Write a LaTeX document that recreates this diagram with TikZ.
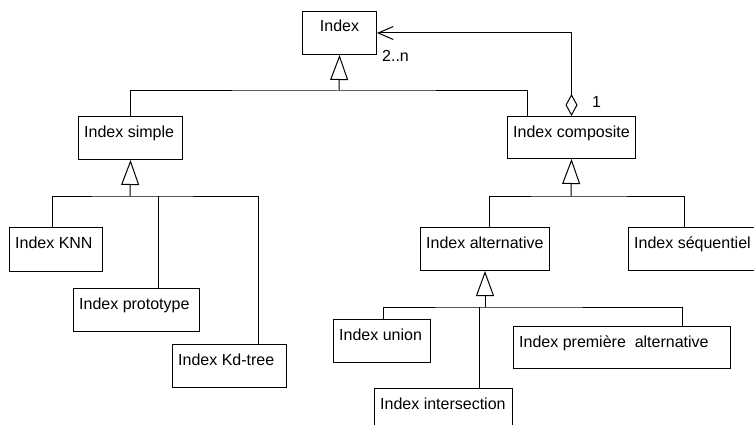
\documentclass[tikz,border=0pt]{standalone}
\usepackage{fontspec}
\setmainfont{Liberation Sans}
\usetikzlibrary{arrows.meta}
\tikzset{
  boxst/.style={draw=black, line width=1pt, inner sep=0pt, fill=white},
  txt/.style={anchor=base west, inner sep=0pt, font=\fontsize{16}{19}\selectfont},
  conn/.style={draw=black, line width=1pt},
  gen/.style={conn, -{Triangle[open, length=25pt, width=18pt, fill=white]}},
  agg/.style={conn, {Diamond[open, length=22pt, width=12pt, fill=white]}-{Straight Barb[length=15pt, width=13pt]}}
}
\newcommand\ubox[6]{%
  \node[boxst, minimum width=#4pt, minimum height=#5pt, anchor=north west] (#1) at (#2,#3) {};
  \node[txt] (#1t) at ([xshift=6pt,yshift=-21pt]#1.north west) {#6};
}
\begin{document}
\begin{tikzpicture}[x=1pt,y=-1pt]
\clip (0,0) rectangle (754,425);
\fill[white] (0,0) rectangle (754,425);
% boxes
\node[boxst, minimum width=74pt, minimum height=43pt, anchor=north west] (idx) at (302,11) {};
\node[txt, anchor=base] (idxt) at ([yshift=-21pt]idx.north) {Index};
\ubox{simple}{78}{116}{104}{43}{Index simple}
\ubox{comp}{507}{116}{128}{42}{Index composite}
\ubox{knn}{9}{227}{93}{44}{Index KNN}
\ubox{proto}{73}{288}{126}{43}{Index prototype}
\ubox{kd}{172}{344}{114}{43}{Index Kd-tree}
\ubox{alt}{420}{227}{129}{43}{Index alternative}
\ubox{seq}{628}{227}{140}{43}{Index séquentiel}
\ubox{union}{333}{319}{97}{43}{Index union}
\ubox{prem}{513}{326}{217}{42}{Index première\ \ alternative}
\ubox{inter}{374}{388}{138}{50}{Index intersection}
% attach points on box tops
\coordinate (compL) at ([xshift=-44pt]comp.north);
\coordinate (knnT) at (52,227);
\coordinate (protoT) at (158,288);
\coordinate (kdT) at (258,344);
\coordinate (altT) at (489,227);
\coordinate (seqT) at (684,227);
\coordinate (unionT) at (383,319);
\coordinate (interT) at (479,388);
\coordinate (premT) at (682,326);
% buses
\coordinate (busA) at (339,91);
\coordinate (busB) at (130,196);
\coordinate (busC) at (571,196);
\coordinate (busD) at (485,307);
% generalization: Index
\draw[gen] (busA) -- (idx.south);
\draw[conn] (simple.north) |- (busA) -| (compL);
% generalization: Index simple
\draw[gen] (busB) -- (simple.south);
\draw[conn] (knnT) |- (busB) -| (kdT);
\draw[conn] (protoT) -- (protoT |- busB);
% generalization: Index composite
\draw[gen] (busC) -- (comp.south);
\draw[conn] (altT) |- (busC) -| (seqT);
% generalization: Index alternative
\draw[gen] (busD) -- (alt.south);
\draw[conn] (unionT) |- (busD) -| (premT);
\draw[conn] (interT) -- (interT |- busD);
% aggregation
\draw[agg] (comp.north) |- (idx.east);
\node[txt] (lblN) at (382,62) {2..n};
\node[txt] (lbl1) at (592,107) {1};
\end{tikzpicture}
\end{document}
